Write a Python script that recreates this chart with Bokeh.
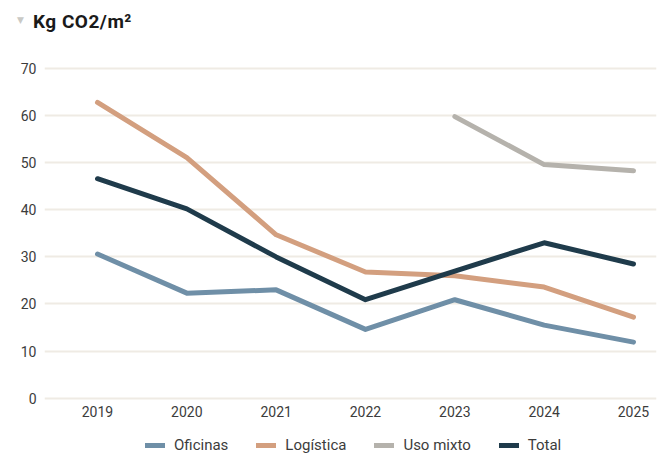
from bokeh.plotting import figure
from bokeh.models import Range1d, Legend, LegendItem, FixedTicker, Div
from bokeh.layouts import column
from bokeh.embed import file_html
from bokeh.resources import INLINE

years = [2019, 2020, 2021, 2022, 2023, 2024, 2025]
oficinas = [30.6, 22.3, 23.0, 14.6, 20.9, 15.5, 11.9]
logistica = [62.8, 51.1, 34.7, 26.8, 26.0, 23.6, 17.2]
mixto_years = [2023, 2024, 2025]
uso_mixto = [59.8, 49.6, 48.3]
total = [46.6, 40.2, 30.0, 20.9, 27.0, 33.0, 28.5]
y_ticks = [0, 10, 20, 30, 40, 50, 60, 70]
series_names = ["Oficinas", "Logística", "Uso mixto", "Total"]
series_colors = ["#6f8fa7", "#d39f7f", "#b5b2ac", "#1f3b4b"]
title_text = "Kg CO2/m²"

FONT = "Roboto"
W = 658

# ---- title strip ----
title_html = (
    '<div style="position:relative;width:658px;height:40px;">'
    '<span style="position:absolute;left:17px;top:14px;font-family:\'DejaVu Sans\';'
    'font-size:9px;line-height:12px;color:#c9c9c5;">&#9660;</span>'
    '<span style="position:absolute;left:33px;top:12px;font-family:Roboto;font-weight:bold;'
    'font-size:19px;letter-spacing:0.5px;line-height:20px;color:#1a1a1a;white-space:nowrap;">'
    + title_text + '</span>'
    '</div>'
)
top = Div(text=title_html, width=W, height=40, margin=0)

# ---- main chart ----
p = figure(width=W, height=380, output_backend="svg", toolbar_location=None,
           x_range=Range1d(2018.4067, 2025.2575), y_range=Range1d(-0.5, 71.5),
           min_border_left=44, min_border_right=2, min_border_top=21, min_border_bottom=20)
p.outline_line_color = None
p.xgrid.grid_line_color = None
p.ygrid.grid_line_color = "#efebe4"
p.ygrid.grid_line_width = 2
p.yaxis.ticker = FixedTicker(ticks=y_ticks)
p.xaxis.ticker = FixedTicker(ticks=years)
for ax in (p.xaxis[0], p.yaxis[0]):
    ax.axis_line_color = None
    ax.major_tick_line_color = None
    ax.minor_tick_line_color = None
    ax.major_tick_out = 0
    ax.major_tick_in = 0
    ax.major_label_text_font = FONT
    ax.major_label_text_color = "#3c3c3c"
p.yaxis.major_label_text_font_size = "14px"
p.xaxis.major_label_text_font_size = "14px"
p.yaxis.major_label_standoff = 8
p.xaxis.major_label_standoff = 5

xs_list = [years, years, mixto_years, years]
ys_list = [oficinas, logistica, uso_mixto, total]
for xs, ys, c in zip(xs_list, ys_list, series_colors):
    p.line(xs, ys, line_color=c, line_width=5, line_cap="round", line_join="round")

# ---- legend strip ----
leg = figure(width=W, height=34, output_backend="svg", toolbar_location=None,
             x_range=Range1d(0, 1), y_range=Range1d(1000, 1001),
             x_axis_location=None, y_axis_location=None,
             min_border_left=44, min_border_right=2, min_border_top=0, min_border_bottom=0)
leg.outline_line_color = None
leg.grid.visible = False
items = []
for name, xs, ys, c in zip(series_names, xs_list, ys_list, series_colors):
    r = leg.line(xs, ys, line_color=c, line_width=5, line_cap="round")
    items.append(LegendItem(label=name, renderers=[r]))
legend = Legend(items=items, orientation="horizontal", location=(101, 0),
                label_text_font=FONT, label_text_font_size="15px", label_text_color="#3c3c3c",
                glyph_width=20, glyph_height=16, label_height=16, spacing=28, label_standoff=9,
                border_line_color=None, background_fill_alpha=0, padding=0, margin=0)
leg.add_layout(legend, "center")

layout = column(top, p, leg, spacing=0)
open("out.html", "w").write(file_html(layout, INLINE))
